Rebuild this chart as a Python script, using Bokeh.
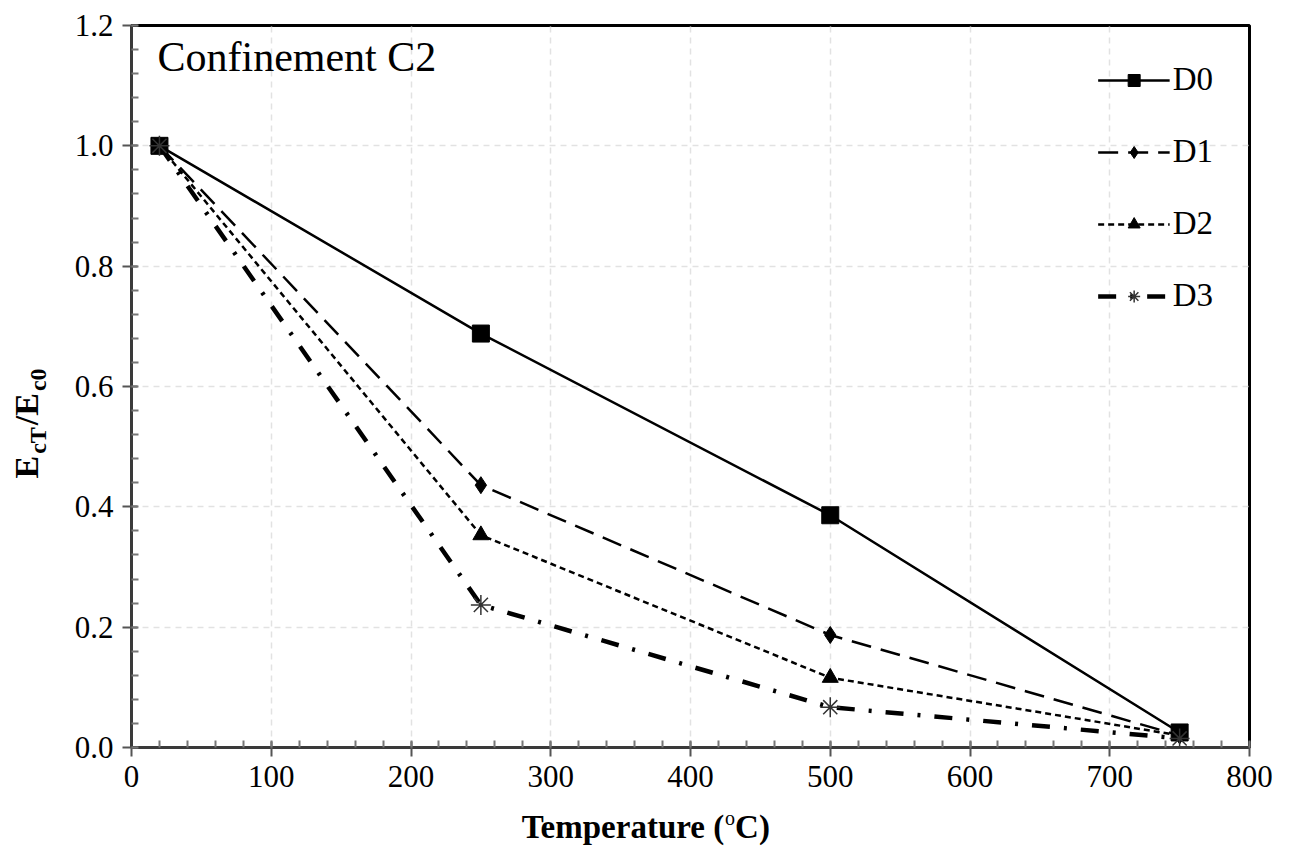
import math
from bokeh.plotting import figure
from bokeh.layouts import row, column
from bokeh.models import (FixedTicker, PrintfTickFormatter, Range1d, Label,
                          Legend, LegendItem)
from bokeh.embed import file_html
from bokeh.resources import INLINE

# ---- data ----
temperature = [20, 250, 500, 750]
d0 = [1.0, 0.688, 0.386, 0.025]
d1 = [1.0, 0.436, 0.187, 0.020]
d2 = [1.0, 0.353, 0.116, 0.020]
d3 = [1.0, 0.237, 0.067, 0.015]
series_names = ["D0", "D1", "D2", "D3"]
x_ticks = [0, 100, 200, 300, 400, 500, 600, 700, 800]
y_ticks = [0.0, 0.2, 0.4, 0.6, 0.8, 1.0, 1.2]
title_text = "Confinement C2"

SERIF = "Liberation Serif"

# layout geometry (pixels)
LEFT_W = 60
MAIN_W = 1228
MAIN_H = 807
BOT_H = 40
TOTAL_H = MAIN_H + BOT_H

p = figure(width=MAIN_W, height=MAIN_H, output_backend="svg", toolbar_location=None,
           title=None,
           x_range=Range1d(0, 800), y_range=Range1d(0, 1.2),
           min_border_left=71, min_border_right=39, min_border_top=25,
           min_border_bottom=60)
p.background_fill_color = "white"
p.border_fill_color = "white"
p.outline_line_color = "black"
p.outline_line_width = 3

p.xaxis.ticker = FixedTicker(ticks=x_ticks,
                             minor_ticks=[v for v in range(0, 801, 20)])
p.yaxis.ticker = FixedTicker(ticks=y_ticks,
                             minor_ticks=[round(i * 0.04, 2) for i in range(31)])
p.yaxis.formatter = PrintfTickFormatter(format="%.1f")
for ax in (p.xaxis[0], p.yaxis[0]):
    ax.axis_line_color = "#3a3a3a"
    ax.axis_line_width = 3
    ax.major_tick_line_color = "#555555"
    ax.major_tick_line_width = 2
    ax.minor_tick_line_color = "#777777"
    ax.minor_tick_line_width = 2
    ax.major_tick_in = 6
    ax.major_tick_out = 9
    ax.minor_tick_in = 7
    ax.minor_tick_out = 0
    ax.major_label_text_font = SERIF
    ax.major_label_text_font_size = "31px"
    ax.major_label_text_color = "black"
    ax.major_label_standoff = 9

for g in (p.xgrid[0], p.ygrid[0]):
    g.grid_line_color = "#e2e2e2"
    g.grid_line_dash = "6 5"
    g.grid_line_width = 1.5

# ---- series ----
styles = [
    dict(dash="solid", width=2.5, marker="square", size=17, mcolor="black", mlw=1),
    dict(dash="20 10", width=2.5, marker="diamond", size=17, mcolor="black", mlw=1),
    dict(dash="6 4", width=2.5, marker="triangle", size=16, mcolor="black", mlw=1),
    dict(dash="18 14 3 14", width=4.5, marker="asterisk", size=20, mcolor="#333333", mlw=1.5),
]
items = []
for name, ys, st in zip(series_names, [d0, d1, d2, d3], styles):
    lr = p.line(temperature, ys, line_color="black", line_width=st["width"],
                line_dash=st["dash"])
    sr = p.scatter(temperature, ys, marker=st["marker"], size=st["size"],
                   fill_color="black", line_color=st["mcolor"],
                   line_width=st["mlw"])
    items.append(LegendItem(label=name, renderers=[lr, sr]))

legend = Legend(items=items, location="top_right")
legend.border_line_color = None
legend.background_fill_alpha = 0
legend.label_text_font = SERIF
legend.label_text_font_size = "33px"
legend.label_text_color = "black"
legend.glyph_width = 72
legend.glyph_height = 30
legend.label_standoff = 3
legend.spacing = 35
legend.margin = 36
legend.padding = 0
legend.label_height = 30
p.add_layout(legend)

# title text inside plot area (reference pixel -> data)
def X(px):
    return (px - 131) * 800.0 / 1118.0

def Y(py):
    return (747 - py) * 1.2 / 722.0

p.add_layout(Label(x=X(157), y=Y(56), text=title_text, text_font=SERIF,
                   text_font_size="42px", text_color="black",
                   text_align="left", text_baseline="alphabetic"))

# ---- left strip: rotated y-axis label E_cT / E_c0 ----
lf = figure(width=LEFT_W, height=TOTAL_H, output_backend="svg",
            toolbar_location=None, title=None, x_range=Range1d(0, LEFT_W),
            y_range=Range1d(0, TOTAL_H), min_border=0,
            x_axis_location=None, y_axis_location=None)
lf.outline_line_color = None
lf.grid.visible = False
lf.background_fill_color = "white"
lf.border_fill_color = "white"

big, small = 34, 24
base_x = 26
sub_x = 37
cur = 478
pieces = [("E", big, base_x, 0.667 * big),
          ("cT", small, sub_x, (0.444 + 0.667) * small),
          ("/E", big, base_x, (0.278 + 0.667) * big),
          ("c0", small, sub_x, (0.444 + 0.5) * small)]
for txt, fs, bx, w in pieces:
    lf.add_layout(Label(x=bx, y=TOTAL_H - cur, text=txt, text_font=SERIF,
                        text_font_size=f"{fs}px", text_font_style="bold",
                        angle=math.pi / 2, text_align="left",
                        text_baseline="alphabetic", text_color="black"))
    cur -= w + 2

# ---- bottom strip: x-axis label Temperature (°C) ----
bf = figure(width=MAIN_W, height=BOT_H, output_backend="svg",
            toolbar_location=None, title=None, x_range=Range1d(0, MAIN_W),
            y_range=Range1d(0, BOT_H), min_border=0,
            x_axis_location=None, y_axis_location=None)
bf.outline_line_color = None
bf.grid.visible = False
bf.background_fill_color = "white"
bf.border_fill_color = "white"

def BX(px):
    return px - LEFT_W

def BY(py):
    return TOTAL_H - py

A = 711
bf.add_layout(Label(x=BX(A), y=BY(826), text="Temperature (", text_font=SERIF,
                    text_font_size="33px", text_font_style="bold",
                    text_align="right", text_baseline="alphabetic",
                    text_color="black"))
bf.add_layout(Label(x=BX(A + 1), y=BY(817), text="o", text_font=SERIF,
                    text_font_size="20px", text_align="left",
                    text_baseline="alphabetic", text_color="black"))
bf.add_layout(Label(x=BX(A + 12), y=BY(826), text="C)", text_font=SERIF,
                    text_font_size="33px", text_font_style="bold",
                    text_align="left", text_baseline="alphabetic",
                    text_color="black"))

layout = row(lf, column(p, bf, spacing=0), spacing=0)
open("out.html", "w").write(file_html(layout, INLINE))
